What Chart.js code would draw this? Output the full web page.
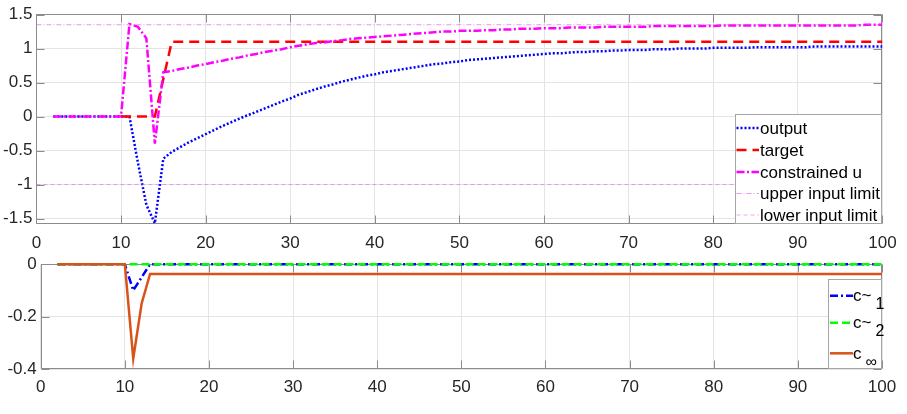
<!DOCTYPE html>
<html>
<head>
<meta charset="utf-8">
<script src="https://cdn.jsdelivr.net/npm/chart.js@4/dist/chart.umd.min.js"></script>
<style>
body { margin: 0; background: #fff; }
#topBox { position: absolute; left: 0; top: 0; width: 907px; height: 260px; }
#bottomBox { position: absolute; left: 0; top: 250px; width: 907px; height: 164px; }
</style>
</head>
<body>
<div id="topBox"><canvas id="topChart"></canvas></div>
<div id="bottomBox"><canvas id="bottomChart"></canvas></div>
<script>
// time steps
const steps = [2,3,4,5,6,7,8,9,10,11,12,13,14,15,16,17,18,19,20,21,22,23,24,25,26,27,28,29,30,
  31,32,33,34,35,36,37,38,39,40,41,42,43,44,45,46,47,48,49,50,51,52,53,54,55,56,57,58,59,60,
  61,62,63,64,65,66,67,68,69,70,71,72,73,74,75,76,77,78,79,80,81,82,83,84,85,86,87,88,89,90,
  91,92,93,94,95,96,97,98,99,100];

// upper plot series
const output = [0,0,0,0,0,0,0,0,0, 0,-0.68,-1.3,-1.57,-0.62,
  -0.52,-0.45,-0.38,-0.32,-0.26,-0.2,-0.14,-0.085,-0.03,0.02,0.07,0.12,0.17,0.22,0.265,
  0.32,0.36,0.40,0.44,0.47,0.51,0.54,0.57,0.60,0.62,
  0.65,0.67,0.69,0.71,0.73,0.75,0.77,0.78,0.80,0.81,
  0.83,0.84,0.85,0.86,0.87,0.88,0.89,0.90,0.91,0.92,
  0.93,0.93,0.94,0.95,0.95,0.96,0.96,0.97,0.97,0.98,
  0.98,0.98,0.99,0.99,0.99,1.00,1.00,1.00,1.00,1.01,
  1.01,1.01,1.01,1.01,1.02,1.02,1.02,1.02,1.02,1.02,
  1.02,1.03,1.03,1.03,1.03,1.03,1.03,1.03,1.03,1.03];

const target = [null,null,null,null,null,null,null,null, 0,0,0,0,0, 0.55,
  1.1,1.1,1.1,1.1,1.1,1.1,1.1,1.1,1.1,1.1,1.1,1.1,1.1,1.1,1.1,1.1,1.1,1.1,1.1,1.1,1.1,
  1.1,1.1,1.1,1.1,1.1,1.1,1.1,1.1,1.1,1.1,1.1,1.1,1.1,1.1,1.1,1.1,1.1,1.1,1.1,1.1,1.1,
  1.1,1.1,1.1,1.1,1.1,1.1,1.1,1.1,1.1,1.1,1.1,1.1,1.1,1.1,1.1,1.1,1.1,1.1,1.1,1.1,1.1,
  1.1,1.1,1.1,1.1,1.1,1.1,1.1,1.1,1.1,1.1,1.1,1.1,1.1,1.1,1.1,1.1,1.1,1.1,1.1,1.1,1.1,1.1,1.1];

const constrainedU = [0,0,0,0,0,0,0,0,0, 1.36,1.32,1.15,-0.4,0.65,
  0.67,0.70,0.72,0.75,0.77,0.80,0.82,0.85,0.87,0.90,0.92,0.95,0.97,0.99,1.02,1.04,
  1.06,1.08,1.09,1.11,1.12,1.14,1.15,1.16,1.17,
  1.18,1.19,1.20,1.21,1.22,1.23,1.24,1.25,1.25,1.26,
  1.26,1.26,1.27,1.27,1.28,1.28,1.29,1.29,1.29,1.30,
  1.30,1.30,1.31,1.31,1.31,1.31,1.32,1.32,1.32,1.32,
  1.32,1.32,1.33,1.33,1.33,1.33,1.33,1.33,1.33,1.33,
  1.34,1.34,1.34,1.34,1.34,1.34,1.34,1.34,1.34,1.34,
  1.34,1.34,1.34,1.34,1.34,1.34,1.34,1.35,1.35,1.35];

const limitSteps = [0, 100];
const upperLimit = [1.35, 1.35];
const lowerLimit = [-1, -1];

// lower plot series
const cTilde1 = [0,0,0,0,0,0,0,0,0, -0.1,-0.05,
  0,0,0,0,0,0,0,0,0,0,0,0,0,0,0,0,0,0,0,0,0,0,0,0,0,0,0,0,0,0,0,0,0,0,
  0,0,0,0,0,0,0,0,0,0,0,0,0,0,0,0,0,0,0,0,0,0,0,0,0,0,0,0,0,0,0,0,0,0,
  0,0,0,0,0,0,0,0,0,0,0,0,0,0,0,0,0,0,0,0,0,0,0,0,0,0,0,0,0,0,0,0,0,0];

const cTilde2 = [0,0,0,0,0,0,0,0,0,0,0,0,0,0,0,0,0,0,0,0,0,0,0,0,0,0,0,0,0,0,0,0,0,
  0,0,0,0,0,0,0,0,0,0,0,0,0,0,0,0,0,0,0,0,0,0,0,0,0,0,0,0,0,0,0,0,0,0,0,0,0,
  0,0,0,0,0,0,0,0,0,0,0,0,0,0,0,0,0,0,0,0,0,0,0,0,0,0,0,0,0,0,0,0,0,0,0,0,0];

const cInf = [0,0,0,0,0,0,0,0,0, -0.36,-0.15,
  -0.037,-0.037,-0.037,-0.037,-0.037,-0.037,-0.037,-0.037,-0.037,-0.037,-0.037,-0.037,-0.037,-0.037,-0.037,
  -0.037,-0.037,-0.037,-0.037,-0.037,-0.037,-0.037,-0.037,-0.037,-0.037,-0.037,-0.037,-0.037,-0.037,-0.037,
  -0.037,-0.037,-0.037,-0.037,-0.037,-0.037,-0.037,-0.037,-0.037,-0.037,-0.037,-0.037,-0.037,-0.037,-0.037,
  -0.037,-0.037,-0.037,-0.037,-0.037,-0.037,-0.037,-0.037,-0.037,-0.037,-0.037,-0.037,-0.037,-0.037,-0.037,
  -0.037,-0.037,-0.037,-0.037,-0.037,-0.037,-0.037,-0.037,-0.037,-0.037,-0.037,-0.037,-0.037,-0.037,-0.037,
  -0.037,-0.037,-0.037,-0.037,-0.037,-0.037,-0.037,-0.037,-0.037,-0.037,-0.037,-0.037,-0.037];

// ticks and legend text
const xTicks = [0,10,20,30,40,50,60,70,80,90,100];
const yTicksTop = [-1.5,-1,-0.5,0,0.5,1,1.5];
const yTicksBottom = [-0.4,-0.2,0];
const topLabels = ['output','target','constrained u','upper input limit','lower input limit'];
const bottomLabels = ['c~','c~','c'];
const bottomSubs = ['1','2','\u221e'];

const FONT = "'Liberation Sans', Arial, sans-serif";
Chart.defaults.font.family = FONT;

function pts(xs, ys) {
  return xs.map((x, i) => ({x: x, y: ys[i]}));
}

// box round the axes with short inward ticks, like matlab
const framePlugin = {
  id: 'frame',
  beforeDatasetsDraw(chart) {
    const {ctx, chartArea: a} = chart;
    const sx = chart.scales.x, sy = chart.scales.y;
    const L = Math.round(a.left) + 0.5, R = Math.round(a.right) - 0.5;
    const T = Math.round(a.top) + 0.5, B = Math.round(a.bottom) - 0.5;
    const len = 8;
    ctx.save();
    ctx.strokeStyle = '#8c8c8c';
    ctx.lineWidth = 1;
    ctx.beginPath();
    ctx.rect(L, T, R - L, B - T);
    sx.ticks.forEach(t => {
      const px = Math.round(sx.getPixelForValue(t.value)) + 0.5;
      ctx.moveTo(px, B); ctx.lineTo(px, B - len);
      ctx.moveTo(px, T); ctx.lineTo(px, T + len);
    });
    sy.ticks.forEach(t => {
      const py = Math.round(sy.getPixelForValue(t.value)) + 0.5;
      ctx.moveTo(L, py); ctx.lineTo(L + len, py);
      ctx.moveTo(R, py); ctx.lineTo(R - len, py);
    });
    ctx.stroke();
    ctx.restore();
  }
};

// legend box inside the lower right corner
const boxLegend = {
  id: 'boxLegend',
  afterDatasetsDraw(chart, args, o) {
    const {ctx, chartArea: a} = chart;
    const left = Math.round(a.right - o.width), top = Math.round(a.bottom - o.height);
    ctx.save();
    ctx.fillStyle = '#fff';
    ctx.fillRect(left, top, o.width, o.height);
    ctx.strokeStyle = '#a6a6a6';
    ctx.lineWidth = 1;
    ctx.strokeRect(left + 0.5, top + 0.5, o.width - 1, o.height - 1);
    o.items.forEach((it, i) => {
      const ds = chart.data.datasets[it.dataset];
      const y = top + o.rows[i];
      ctx.beginPath();
      ctx.setLineDash(ds.borderDash || []);
      ctx.strokeStyle = ds.borderColor;
      ctx.lineWidth = ds.borderWidth;
      ctx.moveTo(left + o.sample[0], y);
      ctx.lineTo(left + o.sample[1], y);
      ctx.stroke();
      ctx.setLineDash([]);
      ctx.fillStyle = '#000';
      ctx.font = o.font;
      ctx.textBaseline = 'middle';
      ctx.fillText(ds.label, left + o.textX, y + 1);
      if (it.sub) {
        const w = ctx.measureText(ds.label).width;
        ctx.font = o.subFont;
        ctx.fillText(it.sub, left + o.textX + w + o.subGap, y + o.subDy);
      }
    });
    ctx.restore();
  }
};

function axes(yMin, yMax, yTicks, yWidth, xHeight, xPad) {
  return {
    x: {
      type: 'linear', min: 0, max: 100,
      afterBuildTicks: s => { s.ticks = xTicks.map(v => ({value: v})); },
      afterFit: s => { s.height = xHeight; },
      grid: {color: '#e4e4e4', drawTicks: false},
      border: {display: false},
      ticks: {color: '#262626', font: {size: 17}, padding: xPad, maxRotation: 0, autoSkip: false,
        callback: v => String(v)}
    },
    y: {
      min: yMin, max: yMax,
      afterBuildTicks: s => { s.ticks = yTicks.map(v => ({value: v})); },
      afterFit: s => { s.width = yWidth; },
      grid: {color: '#e4e4e4', drawTicks: false},
      border: {display: false},
      ticks: {color: '#262626', font: {size: 17}, padding: 4, callback: v => String(v)}
    }
  };
}

const common = {
  responsive: true,
  maintainAspectRatio: false,
  animation: false,
  devicePixelRatio: 1,
  elements: {point: {radius: 0}, line: {tension: 0, borderCapStyle: 'butt'}},
};

new Chart(document.getElementById('topChart'), {
  type: 'line',
  data: {
    datasets: [
      {label: topLabels[0], data: pts(steps, output), borderColor: '#0000ff', borderWidth: 2.5, borderDash: [2, 2], order: 4},
      {label: topLabels[1], data: pts(steps, target), borderColor: '#ff0000', borderWidth: 2.5, borderDash: [10, 6], order: 3},
      {label: topLabels[2], data: pts(steps, constrainedU), borderColor: '#ff00ff', borderWidth: 2.5, borderDash: [8, 2.5, 2, 2.5], order: 2},
      {label: topLabels[3], data: pts(limitSteps, upperLimit), borderColor: 'rgba(224,80,224,0.6)', borderWidth: 1, borderDash: [5, 2, 1, 2], order: 1},
      {label: topLabels[4], data: pts(limitSteps, lowerLimit), borderColor: 'rgba(240,90,220,0.55)', borderWidth: 1, borderDash: [4, 3], order: 0}
    ]
  },
  options: Object.assign({}, common, {
    layout: {padding: {top: 10.3, right: 24.6, left: 0, bottom: 0}},
    scales: axes(-1.585, 1.505, yTicksTop, 36.4, 35.7, 8.5),
    plugins: {
      legend: {display: false},
      tooltip: {enabled: false},
      boxLegend: {
        width: 147, height: 110, rows: [14, 36, 58, 79.5, 101],
        sample: [1.5, 24], textX: 25, font: '17px ' + FONT,
        items: [{dataset: 0}, {dataset: 1}, {dataset: 2}, {dataset: 3}, {dataset: 4}]
      }
    }
  }),
  plugins: [framePlugin, boxLegend]
});

new Chart(document.getElementById('bottomChart'), {
  type: 'line',
  data: {
    datasets: [
      {label: bottomLabels[0], data: pts(steps, cTilde1), borderColor: '#0000ff', borderWidth: 2.5, borderDash: [8, 3, 2, 3], order: 2, clip: false},
      {label: bottomLabels[1], data: pts(steps, cTilde2), borderColor: '#00ff00', borderWidth: 2.5, borderDash: [8, 4], order: 1, clip: false},
      {label: bottomLabels[2], data: pts(steps, cInf), borderColor: '#d95319', borderWidth: 2.5, order: 0, clip: false}
    ]
  },
  options: Object.assign({}, common, {
    layout: {padding: {top: 10.7, right: 25, left: 0, bottom: 0}},
    scales: axes(-0.4, 0, yTicksBottom, 40.7, 45, 8),
    plugins: {
      legend: {display: false},
      tooltip: {enabled: false},
      boxLegend: {
        width: 54, height: 90, rows: [16.7, 43.7, 74.3],
        sample: [2, 25], textX: 25, font: '17px ' + FONT, subFont: '16px ' + FONT,
        subGap: 4, subDy: 9,
        items: [{dataset: 0, sub: bottomSubs[0]}, {dataset: 1, sub: bottomSubs[1]}, {dataset: 2, sub: bottomSubs[2]}]
      }
    }
  }),
  plugins: [framePlugin, boxLegend]
});
</script>
</body>
</html>
